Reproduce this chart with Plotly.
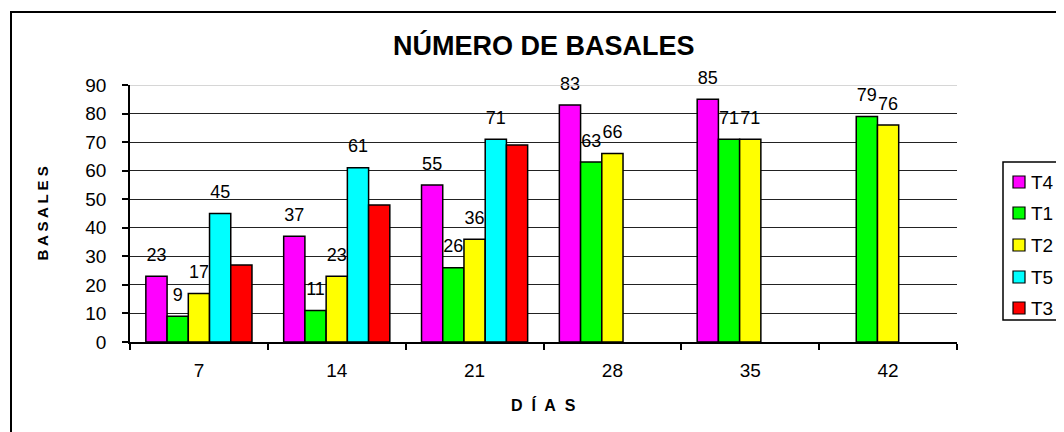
import plotly.graph_objects as go

dias = ["7", "14", "21", "28", "35", "42"]
series_names = ["T4", "T1", "T2", "T5", "T3"]
t4 = [23, 37, 55, 83, 85, None]
t1 = [9, 11, 26, 63, 71, 79]
t2 = [17, 23, 36, 66, 71, 76]
t5 = [45, 61, 71, None, None, None]
t3 = [27, 48, 69, None, None, None]
colors = ["#FF00FF", "#00FF00", "#FFFF00", "#00FFFF", "#FF0000"]
show_labels = [True, True, True, True, False]
y_ticks = [0, 10, 20, 30, 40, 50, 60, 70, 80, 90]

FONT = "Liberation Sans, Arial, sans-serif"

# The page body has an 8px margin; the figure is offset so the plot lands where the reference has it.
W, H = 1064, 432
OFF = 8
PL, PT, PR, PB = 130, 85, 957, 342          # plot area in page pixels
L, T = PL - OFF, PT - OFF
R, B = W - (PR - OFF), H - (PB - OFF)
PW, PH = PR - PL, PB - PT


def px(x):
    return (x - PL) / PW


def py(y):
    return (PB - y) / PH


fig = go.Figure()
for name, vals, col, lab in zip(series_names, [t4, t1, t2, t5, t3], colors, show_labels):
    txt = None
    if lab:
        txt = [("" if v is None else f"<span style='font-size:18px'>{v}</span><br> ") for v in vals]
    fig.add_trace(go.Bar(
        x=dias, y=vals, name=name,
        marker=dict(color=col, line=dict(color="black", width=1.5)),
        text=txt, textposition="outside" if lab else "none",
        textfont=dict(family=FONT, size=8, color="black"),
        constraintext="none", cliponaxis=False,
        hoverinfo="x+y+name", showlegend=False,
    ))

annotations = [
    dict(text="<b>NÚMERO DE BASALES</b>", xref="paper", yref="paper",
         x=0.5, y=py(45), xanchor="center", yanchor="middle", showarrow=False,
         font=dict(family=FONT, size=27, color="black")),
    dict(text="<b>B A S A L E S</b>", xref="paper", yref="paper",
         x=px(42), y=0.5, xanchor="center", yanchor="middle", showarrow=False,
         textangle=-90, font=dict(family=FONT, size=15, color="black")),
    dict(text="<b>D\u00a0 Í\u00a0 A\u00a0 S</b>", xref="paper", yref="paper",
         x=0.5, y=py(405), xanchor="center", yanchor="middle", showarrow=False,
         font=dict(family=FONT, size=16, color="black")),
]
shapes = [
    dict(type="line", xref="paper", yref="y", x0=0, x1=1, y0=90, y1=90,
         line=dict(color="#C8C8C8", width=1.5), layer="above"),
    dict(type="rect", xref="paper", yref="paper",
         x0=px(11), x1=px(1100), y0=py(470), y1=py(12),
         line=dict(color="black", width=2), layer="below"),
    # legend box
    dict(type="rect", xref="paper", yref="paper",
         x0=px(1003), x1=px(1090), y0=py(320), y1=py(162),
         line=dict(color="black", width=1.5), fillcolor="white", layer="above"),
]
legend_rows = [182, 213, 245, 277, 308]
for name, col, ry in zip(series_names, colors, legend_rows):
    shapes.append(dict(type="rect", xref="paper", yref="paper",
                       x0=px(1013), x1=px(1025), y0=py(ry + 6), y1=py(ry - 6),
                       line=dict(color="black", width=1.2), fillcolor=col, layer="above"))
    annotations.append(dict(text=name, xref="paper", yref="paper",
                            x=px(1029), y=py(ry), xanchor="left", yanchor="middle",
                            showarrow=False, font=dict(family=FONT, size=19, color="black")))

fig.update_layout(
    width=W, height=H,
    barmode="group", bargap=0.23, bargroupgap=0,
    paper_bgcolor="white", plot_bgcolor="white",
    margin=dict(l=L, r=R, t=T, b=B, autoexpand=False),
    font=dict(family=FONT, color="black"),
    showlegend=False,
    xaxis=dict(
        type="category", tickson="boundaries", ticks="outside", ticklen=6,
        tickcolor="black", tickwidth=1.5,
        showline=True, linecolor="black", linewidth=1.5, showgrid=False,
        tickfont=dict(family=FONT, size=19, color="black"),
        ticklabelstandoff=10,
    ),
    yaxis=dict(
        range=[0, 90], tickvals=y_ticks, ticks="outside", ticklen=6,
        tickcolor="black", tickwidth=1.5,
        showline=True, linecolor="black", linewidth=1.5,
        showgrid=True, gridcolor="#222222", gridwidth=1,
        zeroline=False,
        tickfont=dict(family=FONT, size=19, color="black"),
        ticklabelstandoff=12,
    ),
    annotations=annotations,
    shapes=shapes,
)

fig.write_html("out.html")
